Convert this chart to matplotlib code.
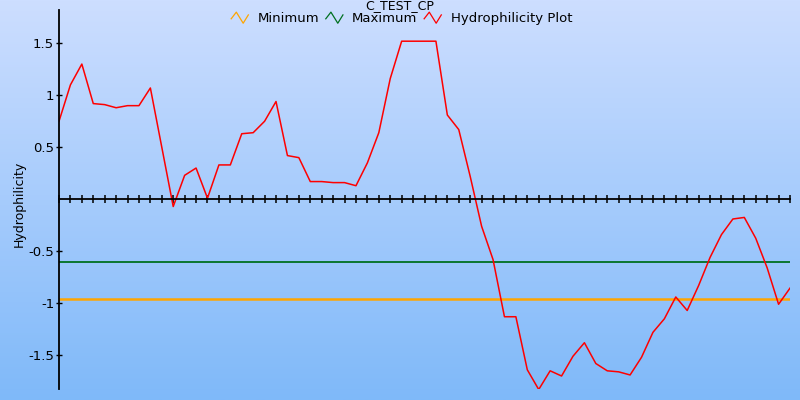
import numpy as np
import matplotlib
matplotlib.use("Agg")
import matplotlib.pyplot as plt
from matplotlib.lines import Line2D
from matplotlib.legend_handler import HandlerBase

# hydrophilicity values, one per residue window
hydro = [0.75, 1.10, 1.30, 0.92, 0.91, 0.88, 0.90, 0.90, 1.07, 0.50,
         -0.07, 0.23, 0.30, 0.01, 0.33, 0.33, 0.63, 0.64, 0.75, 0.94,
         0.42, 0.40, 0.17, 0.17, 0.16, 0.16, 0.13, 0.35, 0.64, 1.16,
         1.52, 1.52, 1.52, 1.52, 0.81, 0.67, 0.22, -0.26, -0.58, -1.13,
         -1.13, -1.64, -1.83, -1.65, -1.70, -1.51, -1.38, -1.58, -1.65, -1.66,
         -1.69, -1.52, -1.28, -1.15, -0.94, -1.07, -0.83, -0.56, -0.34, -0.19,
         -0.175, -0.375, -0.66, -1.01, -0.855]
minimum = -0.955
maximum = -0.60
ytick_vals = [-1.5, -1, -0.5, 0.5, 1, 1.5]
ytick_labels = ["-1.5", "-1", "-0.5", "0.5", "1", "1.5"]

x = np.arange(len(hydro))

fig = plt.figure(figsize=(8, 4), dpi=100)

# gradient background
bg = fig.add_axes([0, 0, 1, 1], zorder=0)
grad = np.linspace(0, 1, 256).reshape(-1, 1)
top = np.array([205, 222, 255]) / 255
bot = np.array([127, 185, 249]) / 255
img = top + (bot - top) * grad[:, :, None]
bg.imshow(img, aspect="auto", extent=[0, 1, 0, 1])
bg.axis("off")

ax = fig.add_axes([59 / 800, 11 / 400, 731 / 800, 379 / 400], zorder=1)
ax.patch.set_alpha(0)

ax.plot(x, [minimum] * len(x), color="#ffa500", lw=1.8)
ax.plot(x, [maximum] * len(x), color="#007020", lw=1.3)
ax.plot(x, hydro, color="#ff0000", lw=1.1)

ax.set_xlim(0, len(hydro) - 1)
ax.set_ylim(-1.825, 1.82)

ax.spines["top"].set_visible(False)
ax.spines["right"].set_visible(False)
ax.spines["bottom"].set_position(("data", 0))
ax.spines["left"].set_linewidth(1.3)
ax.spines["bottom"].set_linewidth(1.3)

ax.set_xticks(x)
ax.set_xticklabels([])
ax.tick_params(axis="x", direction="inout", length=6, width=1.1)
ax.set_yticks(ytick_vals)
ax.set_yticklabels(ytick_labels)
ax.tick_params(axis="y", direction="inout", length=5, width=1.0, labelsize=9.5, pad=1)

fig.text(0.024, 0.49, "Hydrophilicity", rotation=90, ha="center", va="center", fontsize=9)
fig.text(0.499, 1.003, "C_TEST_CP", ha="center", va="top", fontsize=9)


class Zigzag(HandlerBase):
    def create_artists(self, legend, orig_handle, xdescent, ydescent, width, height, fontsize, trans):
        xs = np.array([0.0, 0.3, 0.7, 1.0]) * width - xdescent
        ys = np.array([0.4, 1.0, 0.0, 0.75]) * height * 1.2 - ydescent - 0.1 * height
        ln = Line2D(xs, ys, color=orig_handle.get_color(), lw=0.9, transform=trans)
        return [ln]


handles = [Line2D([], [], color="#ffa500"), Line2D([], [], color="#007020"), Line2D([], [], color="#ff0000")]
fig.legend(handles, ["Minimum", "Maximum", "Hydrophilicity Plot"], loc="center",
           bbox_to_anchor=(0.502, 0.953), ncol=3, frameon=False, fontsize=9.5,
           handler_map={Line2D: Zigzag()}, handlelength=1.3, handletextpad=0.7,
           columnspacing=0.5, borderpad=0.1)

fig.savefig("out.png", dpi=100)
